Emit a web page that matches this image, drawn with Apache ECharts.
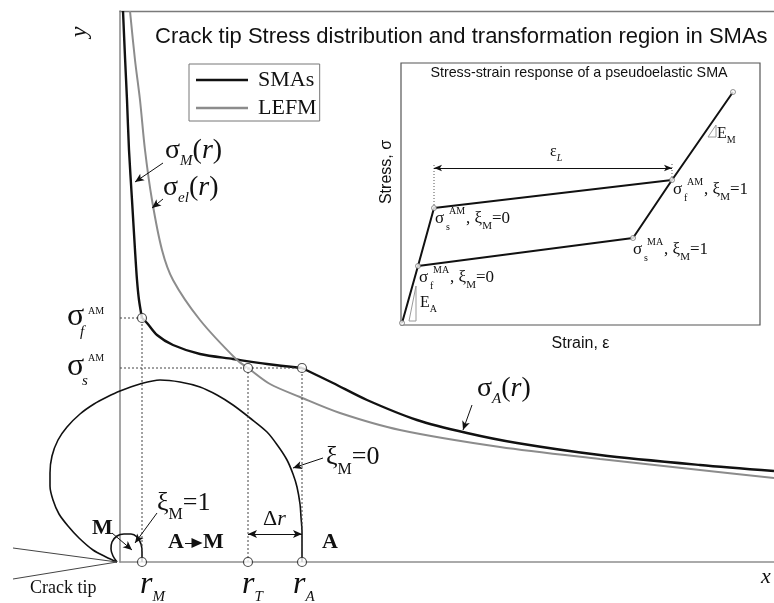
<!DOCTYPE html>
<html>
<head>
<meta charset="utf-8">
<script src="https://cdn.jsdelivr.net/npm/echarts@6/dist/echarts.min.js"></script>
<style>
  html, body { margin: 0; padding: 0; background: #fff; }
  #chart { width: 774px; height: 603px; }
</style>
</head>
<body>
<div id="chart"></div>
<script>
// main plot: distance r along the crack line (x) and stress (y), arbitrary units
var smaMartensite = [[3, 551], [5, 505], [7, 462], [9, 412], [12, 362], [15, 312], [17, 282], [19, 262], [22, 244]];
var smaTransform = [[22, 244], [27, 239], [37, 227], [53, 217], [80, 208], [113, 203], [147, 198], [182, 194]];
var smaAustenite = [[182, 194], [213, 179], [247, 162], [297, 142], [347, 129], [397, 119], [480, 107], [580, 97], [654, 91]];
var lefmCurve = [[10, 551], [15, 502], [20, 462], [25, 412], [32, 362], [42, 312], [53, 282], [80, 242], [117, 202],
  [128, 194], [150, 178], [180, 165], [220, 149], [280, 132], [380, 115], [480, 103], [580, 92], [654, 84]];
// xi_M = 0 boundary (outer) and xi_M = 1 boundary (inner)
var zoneA = [[-3, 0], [-14, 5], [-27, 12], [-41, 24], [-52, 36], [-61, 48], [-67, 62], [-70, 76], [-70, 89], [-68, 106],
  [-62, 122], [-53, 135], [-40, 148], [-26, 158], [-13, 165], [0, 171], [20, 178], [40, 182], [60, 180], [80, 175],
  [97, 167], [113, 157], [130, 144], [147, 130], [158, 116], [167, 102], [173, 88], [177, 75], [180, 58], [181, 45],
  [182, 30], [182, 0]];
var zoneM = [[-3, 0], [-7, 6], [-9, 13], [-8, 20], [-3, 26], [4, 28], [11, 28], [17, 25], [21, 18], [22, 10], [22, 0]];
var crackUpper = [[-107, 14], [-3, 0]];
var crackLower = [[-107, -17], [-3, 0]];
var rM = 22, rT = 128, rA = 182;
var sigmaFAM = 244, sigmaSAM = 194;
var keyPoints = [[rM, sigmaFAM], [rT, sigmaSAM], [rA, sigmaSAM], [rM, 0], [rT, 0], [rA, 0]];
var guides = [
  [[0, sigmaFAM], [rM, sigmaFAM], [rM, 0]],
  [[0, sigmaSAM], [rA, sigmaSAM], [rA, 0]],
  [[rT, sigmaSAM], [rT, 0]]
];
var pointers = [
  [[43, 399], [15, 380]],
  [[43, 363], [32, 354]],
  [[352, 157], [343, 132]],
  [[203, 104], [173, 94]],
  [[37, 49], [15, 19]],
  [[-8, 29], [12, 12]]
];
var deltaR = [[rT, 28], [rA, 28]];
var aToM = [[65, 19], [77, 19]];

// inset: stress-strain loop
var loadPath = [[1, 2], [17, 59], [33, 117], [271, 145], [332, 233]];
var unloadPath = [[17, 59], [232, 87], [271, 145]];
var loopPoints = [[1, 2], [17, 59], [33, 117], [271, 145], [232, 87], [332, 233]];
var slopeA = [[8, 4], [15, 39], [15, 4], [8, 4]];
var slopeM = [[307, 188], [315, 200], [315, 188], [307, 188]];
var epsLGuides = [[[33, 117], [33, 162]], [[271, 148], [271, 162]]];
var epsL = [[33, 157], [271, 157]];

var SERIF = '"Liberation Serif","Times New Roman",serif';
var SANS = '"Liberation Sans",Arial,sans-serif';
var measure = document.createElement('canvas').getContext('2d');
var texts = [];

function put(x, y, text, font, extra) {
  var el = {type: 'text', x: x, y: y, silent: true, z: 100,
    style: {text: text, font: font, fill: '#111', align: 'left', verticalAlign: 'middle'}};
  for (var k in extra) { el[k] = extra[k]; }
  texts.push(el);
}
// formula with sub/superscripts, laid out along a baseline
function formula(x0, base, toks) {
  var x = x0;
  toks.forEach(function (k) {
    var size = k.s || 17;
    var font = (k.i ? 'italic ' : '') + (k.b ? 'bold ' : '') + size + 'px ' + SERIF;
    var px = k.x != null ? x0 + k.x : x;
    put(px, base + (k.dy || 0) - 0.34 * size, k.t, font);
    measure.font = font;
    x = k.stay ? px : px + measure.measureText(k.t).width + (k.gap || 0);
  });
}
function centered(x, y, text, font, rot) {
  put(x, y, text, font, {rotation: rot || 0, style: {text: text, font: font, fill: '#111', align: 'center', verticalAlign: 'middle'}});
}

put(155, 37, 'Crack tip Stress distribution and transformation region in SMAs', '22px ' + SANS);
centered(80, 32, 'y', 'italic 24px ' + SERIF, Math.PI / 2);
put(761, 577, 'x', 'italic 22px ' + SERIF);
put(30, 588, 'Crack tip', '18px ' + SERIF);

formula(165, 160, [{t: 'σ', s: 28}, {t: 'M', s: 15, i: 1, dy: 6}, {t: '(', s: 28}, {t: 'r', s: 28, i: 1}, {t: ')', s: 28}]);
formula(163, 197, [{t: 'σ', s: 28}, {t: 'el', s: 15, i: 1, dy: 6}, {t: '(', s: 28}, {t: 'r', s: 28, i: 1}, {t: ')', s: 28}]);
formula(477, 398, [{t: 'σ', s: 28}, {t: 'A', s: 15, i: 1, dy: 6}, {t: '(', s: 28}, {t: 'r', s: 28, i: 1}, {t: ')', s: 28}]);
formula(326, 466, [{t: 'ξ', s: 26}, {t: 'M', s: 16, dy: 9}, {t: '=0', s: 26}]);
formula(157, 512, [{t: 'ξ', s: 26}, {t: 'M', s: 16, dy: 8}, {t: '=1', s: 26}]);
formula(92, 536, [{t: 'M', s: 22, b: 1}]);
formula(168, 550, [{t: 'A', s: 22, b: 1}]);
formula(203, 550, [{t: 'M', s: 22, b: 1}]);
formula(322, 550, [{t: 'A', s: 22, b: 1}]);
formula(263, 527, [{t: 'Δ', s: 22}, {t: 'r', s: 22, i: 1}]);
formula(140, 595, [{t: 'r', s: 32, i: 1}, {t: 'M', s: 15, i: 1, dy: 7}]);
formula(242, 595, [{t: 'r', s: 32, i: 1}, {t: 'T', s: 15, i: 1, dy: 7}]);
formula(293, 595, [{t: 'r', s: 32, i: 1}, {t: 'A', s: 15, i: 1, dy: 7}]);
formula(67, 327, [{t: 'σ', s: 32}, {t: 'f', s: 15, i: 1, x: 13, dy: 10, stay: 1}, {t: 'AM', s: 10, x: 21, dy: -12}]);
formula(67, 377, [{t: 'σ', s: 32}, {t: 's', s: 15, i: 1, x: 15, dy: 9, stay: 1}, {t: 'AM', s: 10, x: 21, dy: -15}]);

// inset labels
centered(579, 73, 'Stress-strain response of a pseudoelastic SMA', '14.3px ' + SANS);
formula(550, 157, [{t: 'ε', s: 16}, {t: 'L', s: 10, i: 1, dy: 5}]);
function insetLabel(x, base, sub, sup, xi) {
  formula(x, base, [{t: 'σ', s: 17}, {t: sub, s: 10, x: 11, dy: 7, stay: 1}, {t: sup, s: 10, x: 14, dy: -9, gap: 1},
    {t: ', ξ', s: 17}, {t: 'M', s: 11, dy: 6}, {t: '=' + xi, s: 17}]);
}
insetLabel(435, 224, 's', 'AM', 0);
insetLabel(673, 195, 'f', 'AM', 1);
insetLabel(633, 255, 's', 'MA', 1);
insetLabel(419, 283, 'f', 'MA', 0);
formula(420, 308, [{t: 'E', s: 16}, {t: 'A', s: 10, dy: 5}]);
formula(717, 139, [{t: 'E', s: 16}, {t: 'M', s: 10, dy: 5}]);

// axis indices: 0/0 main plot, 2/1 inset, 3/2 overlay that reaches left of and below the main axes
function line(data, color, width, opts) {
  var s = {type: 'line', data: data, symbol: 'none', silent: true, animation: false,
    lineStyle: {color: color, width: width}, itemStyle: {color: color}, xAxisIndex: 0, yAxisIndex: 0};
  for (var k in opts) { s[k] = opts[k]; }
  return s;
}
function pairs(list) {
  return list.map(function (p) { return [{coord: p[0]}, {coord: p[1]}]; });
}
var wide = {xAxisIndex: 3, yAxisIndex: 2};
var inset = {xAxisIndex: 2, yAxisIndex: 1};
function on(base, opts) { for (var k in base) opts[k] = base[k]; return opts; }

var series = [
  line(smaMartensite, '#111', 2.4, {name: 'SMAs', smooth: 0.3}),
  line(smaTransform, '#111', 2.4, {name: 'SMAs', smooth: 0.3}),
  line(smaAustenite, '#111', 2.4, {name: 'SMAs', smooth: 0.3}),
  line(lefmCurve, '#8c8c8c', 2, {name: 'LEFM', smooth: 0.3}),
  line(zoneA, '#111', 1.6, on(wide, {smooth: 0.3})),
  line(zoneM, '#111', 1.6, on(wide, {smooth: 0.3})),
  line(crackUpper, '#444', 1, on(wide, {})),
  line(crackLower, '#444', 1, on(wide, {}))
];
guides.forEach(function (g) {
  series.push(line(g, '#444', 1, {lineStyle: {color: '#444', width: 1, type: [2, 2]}}));
});
series.push({
  type: 'scatter', data: keyPoints, symbolSize: 9, silent: true, animation: false, z: 5,
  itemStyle: {color: '#fff', borderColor: '#222', borderWidth: 1.2}
});
series.push(on(wide, {
  type: 'line', data: [], silent: true, animation: false,
  markLine: {
    silent: true, animation: false, symbol: ['none', 'arrow'], symbolSize: [6, 9],
    label: {show: false}, lineStyle: {color: '#111', width: 1, type: 'solid'},
    data: pairs(pointers).concat([
      [{coord: deltaR[0], symbol: 'arrow'}, {coord: deltaR[1]}],
      [{coord: aToM[0]}, {coord: aToM[1], symbol: 'triangle', symbolSize: [10, 11]}]
    ])
  }
}));
// inset series
series.push(line(loadPath, '#111', 2, on(inset, {})));
series.push(line(unloadPath, '#111', 2, on(inset, {})));
series.push(line(slopeA, '#9a9a9a', 1, on(inset, {})));
series.push(line(slopeM, '#9a9a9a', 1, on(inset, {})));
epsLGuides.forEach(function (g) {
  series.push(line(g, '#555', 1, on(inset, {lineStyle: {color: '#555', width: 1, type: [1, 2]}})));
});
series.push(on(inset, {
  type: 'scatter', data: loopPoints, symbolSize: 5, silent: true, animation: false, z: 5,
  itemStyle: {color: '#fff', borderColor: '#555', borderWidth: 0.8}
}));
series.push(on(inset, {
  type: 'line', data: [], silent: true, animation: false,
  markLine: {
    silent: true, animation: false, symbol: ['arrow', 'arrow'], symbolSize: [5, 8],
    label: {show: false}, lineStyle: {color: '#111', width: 1, type: 'solid'},
    data: [[{coord: epsL[0]}, {coord: epsL[1]}]]
  }
}));

var hidden = {axisTick: {show: false}, axisLabel: {show: false}, splitLine: {show: false}};
function axis(o) { var a = {type: 'value'}; for (var k in hidden) a[k] = hidden[k]; for (var j in o) a[j] = o[j]; return a; }

var chart = echarts.init(document.getElementById('chart'));
chart.setOption({
  animation: false,
  backgroundColor: '#fff',
  grid: [
    {left: 120, right: 0, top: 11, bottom: 41},
    {left: 401, top: 63, width: 359, height: 262, show: true, backgroundColor: '#fff', borderColor: '#555', borderWidth: 1.2},
    {left: 0, right: 0, top: 11, bottom: 0}
  ],
  xAxis: [
    axis({gridIndex: 0, min: 0, max: 654, axisLine: {lineStyle: {color: '#8f8f8f', width: 1.6}}}),
    axis({gridIndex: 0, min: 0, max: 654, position: 'top', axisLine: {lineStyle: {color: '#7a7a7a', width: 1.4}}}),
    axis({gridIndex: 1, min: 0, max: 359, axisLine: {show: false}, name: 'Strain, ε', nameLocation: 'middle', nameGap: 11,
      nameTextStyle: {fontFamily: SANS, fontSize: 16, color: '#111'}}),
    axis({gridIndex: 2, min: -120, max: 654, axisLine: {show: false}})
  ],
  yAxis: [
    axis({gridIndex: 0, min: 0, max: 551, axisLine: {lineStyle: {color: '#8f8f8f', width: 1.6}}}),
    axis({gridIndex: 1, min: 0, max: 262, axisLine: {show: false}, name: 'Stress, σ', nameLocation: 'middle', nameGap: 6,
      nameRotate: 90, nameTextStyle: {fontFamily: SANS, fontSize: 16, color: '#111', padding: [0, 0, 0, 44]}}),
    axis({gridIndex: 2, min: -41, max: 551, axisLine: {show: false}})
  ],
  legend: {
    data: [
      {name: 'SMAs', icon: 'rect', itemStyle: {color: '#111'}},
      {name: 'LEFM', icon: 'rect', itemStyle: {color: '#8c8c8c'}}
    ],
    orient: 'vertical', left: 189, top: 64, selectedMode: false,
    itemWidth: 52, itemHeight: 2.4, itemGap: 6, padding: [5, 3, 2, 7],
    borderColor: '#777', borderWidth: 1, borderRadius: 0,
    textStyle: {fontFamily: SERIF, fontSize: 22, lineHeight: 22, color: '#111', padding: [0, 0, 0, 5]}
  },
  graphic: texts,
  series: series
});
</script>
</body>
</html>
